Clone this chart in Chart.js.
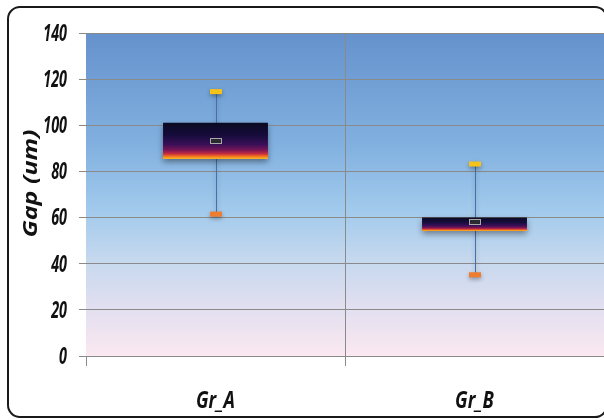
<!DOCTYPE html>
<html>
<head>
<meta charset="utf-8">
<script src="https://cdn.jsdelivr.net/npm/chart.js@4.4.1/dist/chart.umd.min.js"></script>
<style>
  html, body { margin: 0; padding: 0; background: #fff; }
  #wrap { width: 604px; height: 420px; }
</style>
</head>
<body>
<div id="wrap"><canvas id="boxChart"></canvas></div>
<script>
const categories = ['Gr_A', 'Gr_B'];
const minValues = [61.5, 35.2];
const q1Values = [85.4, 54.2];
const medianValues = [93.1, 58.0];
const q3Values = [101.1, 60.0];
const maxValues = [114.6, 83.2];
const yTicks = [0, 20, 40, 60, 80, 100, 120, 140];
const yTitle = 'Gap (um)';

const labelFont = 'italic bold 24px "Open Sans", "Noto Sans", sans-serif';
const gridGray = '#8a8a8a';

// boxes: dark navy at top going to orange at the bottom edge
function boxGradient(context) {
    const chart = context.chart;
    const y = chart.scales.y;
    if (!y || context.type !== 'data') return '#1a0d40';
    const top = y.getPixelForValue(q3Values[context.dataIndex]);
    const bottom = y.getPixelForValue(q1Values[context.dataIndex]);
    if (!isFinite(top) || !isFinite(bottom) || top === bottom) return '#1a0d40';
    const g = chart.ctx.createLinearGradient(0, top, 0, bottom);
    g.addColorStop(0, '#0a0a22');
    g.addColorStop(0.35, '#160c3c');
    g.addColorStop(0.6, '#3a0f58');
    g.addColorStop(0.75, '#771555');
    g.addColorStop(0.85, '#c02a40');
    g.addColorStop(0.92, '#f06a22');
    g.addColorStop(0.97, '#f8a21e');
    g.addColorStop(1, '#f2b232');
    return g;
}

// text in the original is squeezed sideways, so draw it with a scale
function squeezedText(ctx, text, x, y, sx, align) {
    ctx.save();
    ctx.translate(x, y);
    ctx.scale(sx, 1);
    ctx.textAlign = align;
    ctx.fillText(text, 0, 0);
    ctx.restore();
}

const boxParts = {
    id: 'boxParts',
    beforeDraw(chart) {
        const { ctx, chartArea: a } = chart;
        const g = ctx.createLinearGradient(0, a.top, 0, a.bottom);
        g.addColorStop(0, '#6592cc');
        g.addColorStop(0.35, '#82b1e0');
        g.addColorStop(0.55, '#a2caec');
        g.addColorStop(0.7, '#c5d8ee');
        g.addColorStop(0.85, '#e2dff0');
        g.addColorStop(1, '#fbe8f0');
        ctx.save();
        ctx.fillStyle = g;
        ctx.fillRect(a.left, a.top, a.right - a.left, a.bottom - a.top);
        ctx.restore();
    },
    beforeDatasetsDraw(chart) {
        const { ctx } = chart;
        const x = chart.scales.x, y = chart.scales.y;
        ctx.save();
        ctx.strokeStyle = '#4670ad';
        ctx.lineWidth = 1;
        ctx.shadowColor = 'rgba(0,0,0,0.3)';
        ctx.shadowBlur = 4;
        ctx.shadowOffsetY = 2;
        categories.forEach((c, i) => {
            const px = Math.round(x.getPixelForValue(i)) + 0.5;
            ctx.beginPath();
            ctx.moveTo(px, y.getPixelForValue(maxValues[i]));
            ctx.lineTo(px, y.getPixelForValue(minValues[i]));
            ctx.stroke();
        });
        ctx.restore();
    },
    beforeDatasetDraw(chart) {
        const ctx = chart.ctx;
        ctx.save();
        ctx.shadowColor = 'rgba(0,0,0,0.4)';
        ctx.shadowBlur = 6;
        ctx.shadowOffsetY = 3;
    },
    afterDatasetDraw(chart) {
        chart.ctx.restore();
    },
    afterDatasetsDraw(chart) {
        const { ctx } = chart;
        const x = chart.scales.x, y = chart.scales.y;
        ctx.save();
        categories.forEach((c, i) => {
            const px = Math.round(x.getPixelForValue(i));
            ctx.shadowColor = 'rgba(0,0,0,0.35)';
            ctx.shadowBlur = 4;
            ctx.shadowOffsetY = 2;
            ctx.fillStyle = '#f5c21a';
            ctx.fillRect(px - 6, y.getPixelForValue(maxValues[i]) - 2.5, 12, 5);
            ctx.fillStyle = '#f07c30';
            ctx.fillRect(px - 6, y.getPixelForValue(minValues[i]) - 2.5, 12, 5);
            ctx.shadowColor = 'transparent';
            const my = Math.round(y.getPixelForValue(medianValues[i]));
            ctx.fillStyle = '#2a2a30';
            ctx.fillRect(px - 6, my - 2, 12, 4);
            ctx.strokeStyle = '#a8a8a8';
            ctx.lineWidth = 1;
            ctx.strokeRect(px - 5.5, my - 2.5, 11, 5);
        });
        ctx.restore();
    },
    afterDraw(chart) {
        const { ctx, chartArea: a } = chart;
        const x = chart.scales.x, y = chart.scales.y;
        ctx.save();
        ctx.fillStyle = '#111';
        ctx.font = labelFont;
        ctx.textBaseline = 'middle';
        yTicks.forEach(v => squeezedText(ctx, String(v), 67, y.getPixelForValue(v) + 1, 0.6, 'right'));
        ctx.textBaseline = 'alphabetic';
        categories.forEach((c, i) => squeezedText(ctx, c, x.getPixelForValue(i), 408, 0.76, 'center'));
        // y title, stretched along its length like the original
        ctx.translate(31, (a.top + a.bottom) / 2 - 11);
        ctx.rotate(-Math.PI / 2);
        ctx.scale(1.25, 1);
        ctx.font = 'italic bold 20px "Open Sans", sans-serif';
        ctx.textAlign = 'center';
        ctx.textBaseline = 'middle';
        ctx.fillText(yTitle, 0, 0);
        ctx.restore();
        // rounded frame
        ctx.save();
        ctx.strokeStyle = '#1a1a1a';
        ctx.lineWidth = 2;
        ctx.beginPath();
        ctx.roundRect(8, 7, 599, 410, 12);
        ctx.stroke();
        ctx.restore();
    }
};

new Chart(document.getElementById('boxChart'), {
    type: 'bar',
    data: {
        labels: categories,
        datasets: [{
            label: 'IQR',
            data: categories.map((c, i) => [q1Values[i], q3Values[i]]),
            backgroundColor: boxGradient,
            borderWidth: 0,
            borderSkipped: false,
            categoryPercentage: 1,
            barPercentage: 0.405
        }]
    },
    options: {
        responsive: true,
        maintainAspectRatio: false,
        animation: false,
        layout: { padding: { top: 33, left: 0, right: 0, bottom: 0 } },
        plugins: {
            legend: { display: false },
            tooltip: { enabled: false }
        },
        scales: {
            x: {
                offset: true,
                grid: {
                    offset: true,
                    color: (ctx) => ctx.index === 0 ? 'rgba(0,0,0,0)' : gridGray,
                    tickColor: gridGray,
                    tickLength: 10,
                    lineWidth: 1
                },
                border: { display: false },
                ticks: { display: false },
                afterFit(scale) { scale.height = 64; }
            },
            y: {
                min: 0,
                max: 140,
                afterBuildTicks(scale) { scale.ticks = yTicks.map(v => ({ value: v })); },
                grid: { color: gridGray, tickLength: 7, lineWidth: 1 },
                border: { display: false },
                ticks: { display: false },
                afterFit(scale) { scale.width = 86; }
            }
        }
    },
    plugins: [boxParts]
});
</script>
</body>
</html>
